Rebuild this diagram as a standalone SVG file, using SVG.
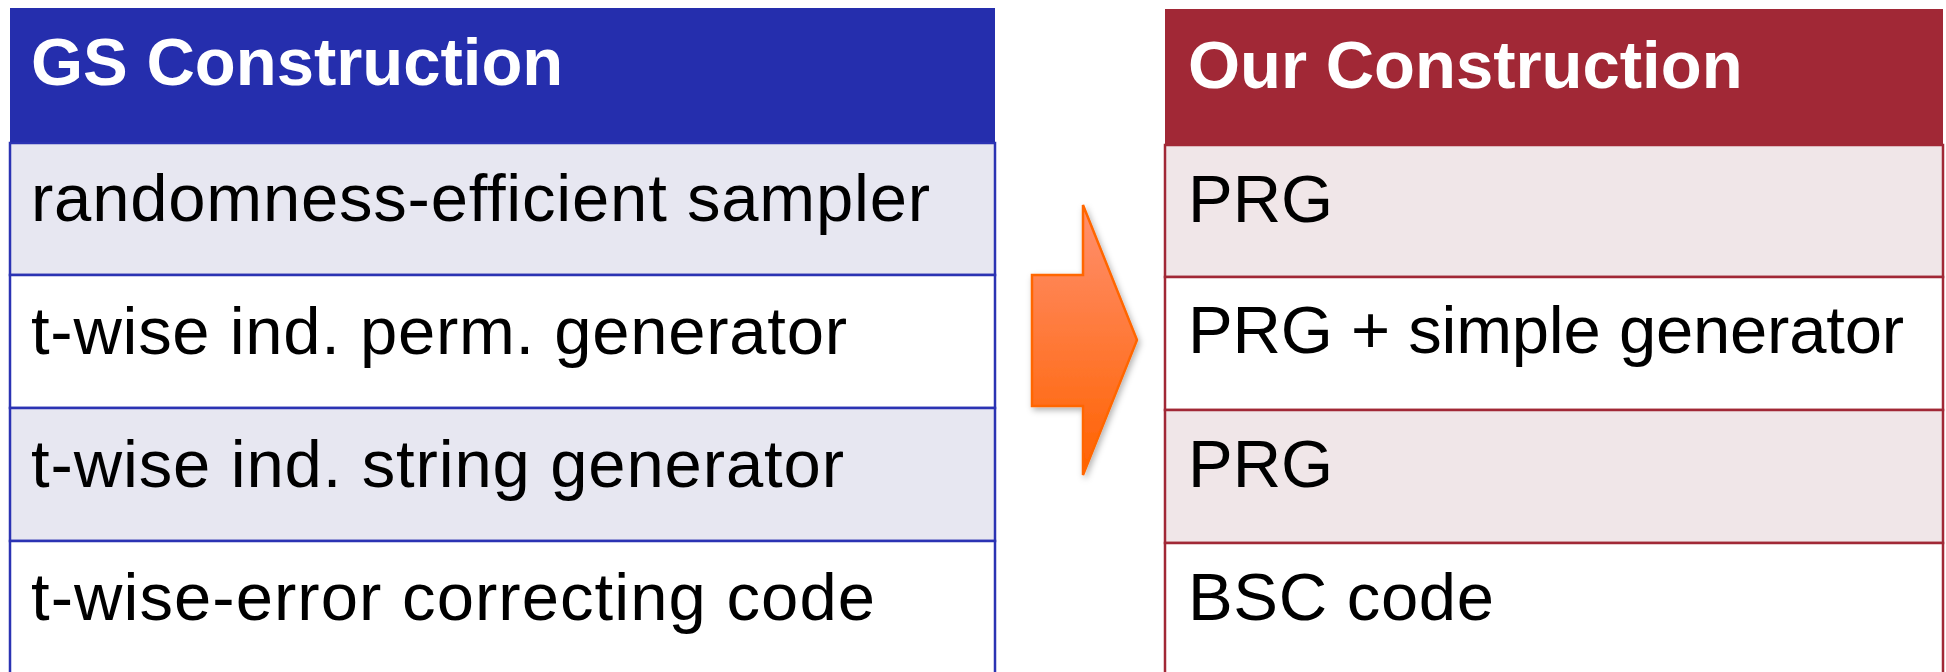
<svg xmlns="http://www.w3.org/2000/svg" width="1946" height="672" viewBox="0 0 1946 672">
<style>
.hd{font-family:"Liberation Sans",Arial,sans-serif;font-weight:bold;font-size:67px;fill:#ffffff}
.tx{font-family:"Liberation Sans",Arial,sans-serif;font-size:67px;fill:#000000}
.bl{stroke:#2B33B3;stroke-width:2.5}
.rd{stroke:#A12836;stroke-width:2.5}
</style>
<defs>
<linearGradient id="ag" x1="0" y1="0" x2="0" y2="1">
<stop offset="0" stop-color="#FF9070"/>
<stop offset="1" stop-color="#FF6200"/>
</linearGradient>
<filter id="sh" x="-20%" y="-20%" width="150%" height="150%">
<feDropShadow dx="2" dy="3" stdDeviation="3" flood-color="#000" flood-opacity="0.3"/>
</filter>
</defs>
<g id="left-table">
<rect x="10" y="8" width="985" height="135" fill="#252EAD"/>
<rect x="10" y="143" width="985" height="132" fill="#E7E7F1" class="bl"/>
<rect x="10" y="275" width="985" height="133" fill="#FFFFFF" class="bl"/>
<rect x="10" y="408" width="985" height="133" fill="#E7E7F1" class="bl"/>
<rect x="10" y="541" width="985" height="140" fill="#FFFFFF" class="bl"/>
<text class="hd" x="31" y="85">GS Construction</text>
<text class="tx" x="31" y="221" textLength="899" lengthAdjust="spacing">randomness-efficient sampler</text>
<text class="tx" x="31" y="354" textLength="816" lengthAdjust="spacing">t-wise ind. perm. generator</text>
<text class="tx" x="31" y="487" textLength="813" lengthAdjust="spacing">t-wise ind. string generator</text>
<text class="tx" x="31" y="620" textLength="844" lengthAdjust="spacing">t-wise-error correcting code</text>
</g>
<g id="arrow">
<path d="M1032,275 L1083,275 L1083,205 L1137,340 L1083,475 L1083,406 L1032,406 Z" fill="url(#ag)" stroke="#FF6600" stroke-width="2.5" stroke-linejoin="miter" filter="url(#sh)"/>
</g>
<g id="right-table">
<rect x="1165" y="9" width="778" height="136" fill="#A12836"/>
<rect x="1165" y="145" width="778" height="132" fill="#F0E6E8" class="rd"/>
<rect x="1165" y="277" width="778" height="133" fill="#FFFFFF" class="rd"/>
<rect x="1165" y="410" width="778" height="133" fill="#F0E6E8" class="rd"/>
<rect x="1165" y="543" width="778" height="140" fill="#FFFFFF" class="rd"/>
<text class="hd" x="1188" y="88">Our Construction</text>
<text class="tx" x="1188" y="222">PRG</text>
<text class="tx" x="1188" y="353" textLength="716" lengthAdjust="spacing">PRG + simple generator</text>
<text class="tx" x="1188" y="487">PRG</text>
<text class="tx" x="1188" y="620" textLength="306" lengthAdjust="spacing">BSC code</text>
</g>
</svg>
